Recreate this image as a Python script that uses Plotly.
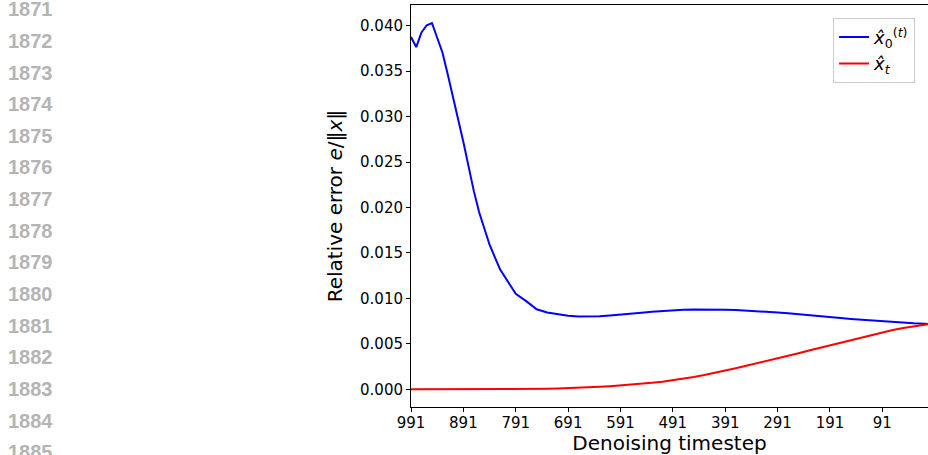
import plotly.graph_objects as go

# Denoising timesteps (descending, as sampled)
timesteps = [991, 981, 971, 961, 951, 941, 931, 921, 911, 901, 891, 881, 871, 861, 851,
             841, 821, 791, 771, 751, 731, 711, 691, 671, 651, 631, 611, 591, 571, 551,
             531, 511, 491, 471, 451, 431, 411, 391, 371, 351, 331, 311, 291, 271, 251,
             231, 211, 191, 171, 151, 131, 111, 91, 71, 51, 31, 11, 1]

# Relative error of the predicted clean sample x0^(t)
err_x0 = [0.03875, 0.03765, 0.03926, 0.04005, 0.04030, 0.03870, 0.03706, 0.03470, 0.03230,
          0.02990, 0.02720, 0.02450, 0.02180, 0.01950, 0.01760, 0.01590, 0.01320, 0.01050,
          0.00970, 0.00880, 0.00845, 0.00824, 0.00810, 0.00802, 0.00800, 0.00804, 0.00812,
          0.00820, 0.00830, 0.00842, 0.00853, 0.00862, 0.00870, 0.00876, 0.00879, 0.00880,
          0.00879, 0.00876, 0.00871, 0.00866, 0.00860, 0.00853, 0.00845, 0.00837, 0.00828,
          0.00818, 0.00807, 0.00795, 0.00784, 0.00774, 0.00765, 0.00756, 0.00747, 0.00739,
          0.00732, 0.00726, 0.00721, 0.00718]

# Relative error of the noisy iterate x_t
err_xt = [0.00000, 0.00000, 0.00000, 0.00000, 0.00000, 0.00000, 0.00000, 0.00000, 0.00000,
          0.00001, 0.00001, 0.00001, 0.00001, 0.00001, 0.00001, 0.00001, 0.00002, 0.00002,
          0.00003, 0.00004, 0.00006, 0.00009, 0.00012, 0.00016, 0.00021, 0.00027, 0.00034,
          0.00042, 0.00050, 0.00060, 0.00071, 0.00084, 0.00100, 0.00117, 0.00136, 0.00157,
          0.00180, 0.00205, 0.00232, 0.00259, 0.00285, 0.00312, 0.00340, 0.00368, 0.00397,
          0.00426, 0.00455, 0.00484, 0.00512, 0.00540, 0.00569, 0.00598, 0.00627, 0.00652,
          0.00674, 0.00693, 0.00709, 0.00718]

x_ticks = [991, 891, 791, 691, 591, 491, 391, 291, 191, 91]
y_ticks = [0.000, 0.005, 0.010, 0.015, 0.020, 0.025, 0.030, 0.035, 0.040]
y_tick_text = [f"{v:.3f}" for v in y_ticks]

line_numbers = list(range(1871, 1886))

W, H = 928, 455
ML, MR, MT, MB = 411, 0, 5, 48
plot_h = H - MT - MB

fig = go.Figure()
fig.add_trace(go.Scatter(
    x=timesteps, y=err_x0, mode="lines",
    line=dict(color="#0000ff", width=2),
    name="<i>x̂</i><sub>0</sub><sup>(<i>t</i>)</sup>",
))
fig.add_trace(go.Scatter(
    x=timesteps, y=err_xt, mode="lines",
    line=dict(color="#ff0000", width=2),
    name="<i>x̂</i><sub><i>t</i></sub>",
))

tick_font = dict(family="DejaVu Sans", size=15, color="black")

fig.update_layout(
    width=W, height=H,
    margin=dict(l=ML, r=MR, t=MT, b=MB, pad=0),
    plot_bgcolor="white", paper_bgcolor="white",
    showlegend=True,
    legend=dict(
        x=0.975, y=0.968, xanchor="right", yanchor="top",
        bgcolor="white", bordercolor="#cccccc", borderwidth=1,
        font=dict(family="DejaVu Sans", size=18, color="black"),
        itemwidth=30,
    ),
    xaxis=dict(
        range=[991, 3.8],
        tickmode="array", tickvals=x_ticks, ticktext=[str(v) for v in x_ticks],
        ticks="outside", ticklen=4, tickwidth=1, tickcolor="black",
        ticklabelstandoff=-2,
        showline=True, linecolor="black", linewidth=1, mirror=True,
        showgrid=False, zeroline=False,
        tickfont=tick_font,
        title=dict(text="Denoising timestep",
                   font=dict(family="DejaVu Sans", size=20, color="black"),
                   standoff=4),
    ),
    yaxis=dict(
        range=[-0.00195, 0.04228],
        tickmode="array", tickvals=y_ticks, ticktext=y_tick_text,
        ticks="outside", ticklen=4, tickwidth=1, tickcolor="black",
        showline=True, linecolor="black", linewidth=1, mirror=False,
        showgrid=False, zeroline=False,
        tickfont=tick_font,
        title=dict(text="Relative error <i>e</i>/‖<i>x</i>‖",
                   font=dict(family="DejaVu Sans", size=20, color="black"),
                   standoff=12),
    ),
)

# Manuscript line numbers along the left margin
for i, n in enumerate(line_numbers):
    py = 9.2 + 31.66 * i
    fig.add_annotation(
        x=(6 - ML) / (W - ML - MR), y=(H - MB - py) / plot_h,
        xref="paper", yref="paper", xanchor="left", yanchor="middle",
        text=f"<b>{n}</b>", showarrow=False,
        font=dict(family="Liberation Sans", size=20, color="#b4b4b4"),
    )

fig.write_html("out.html")
